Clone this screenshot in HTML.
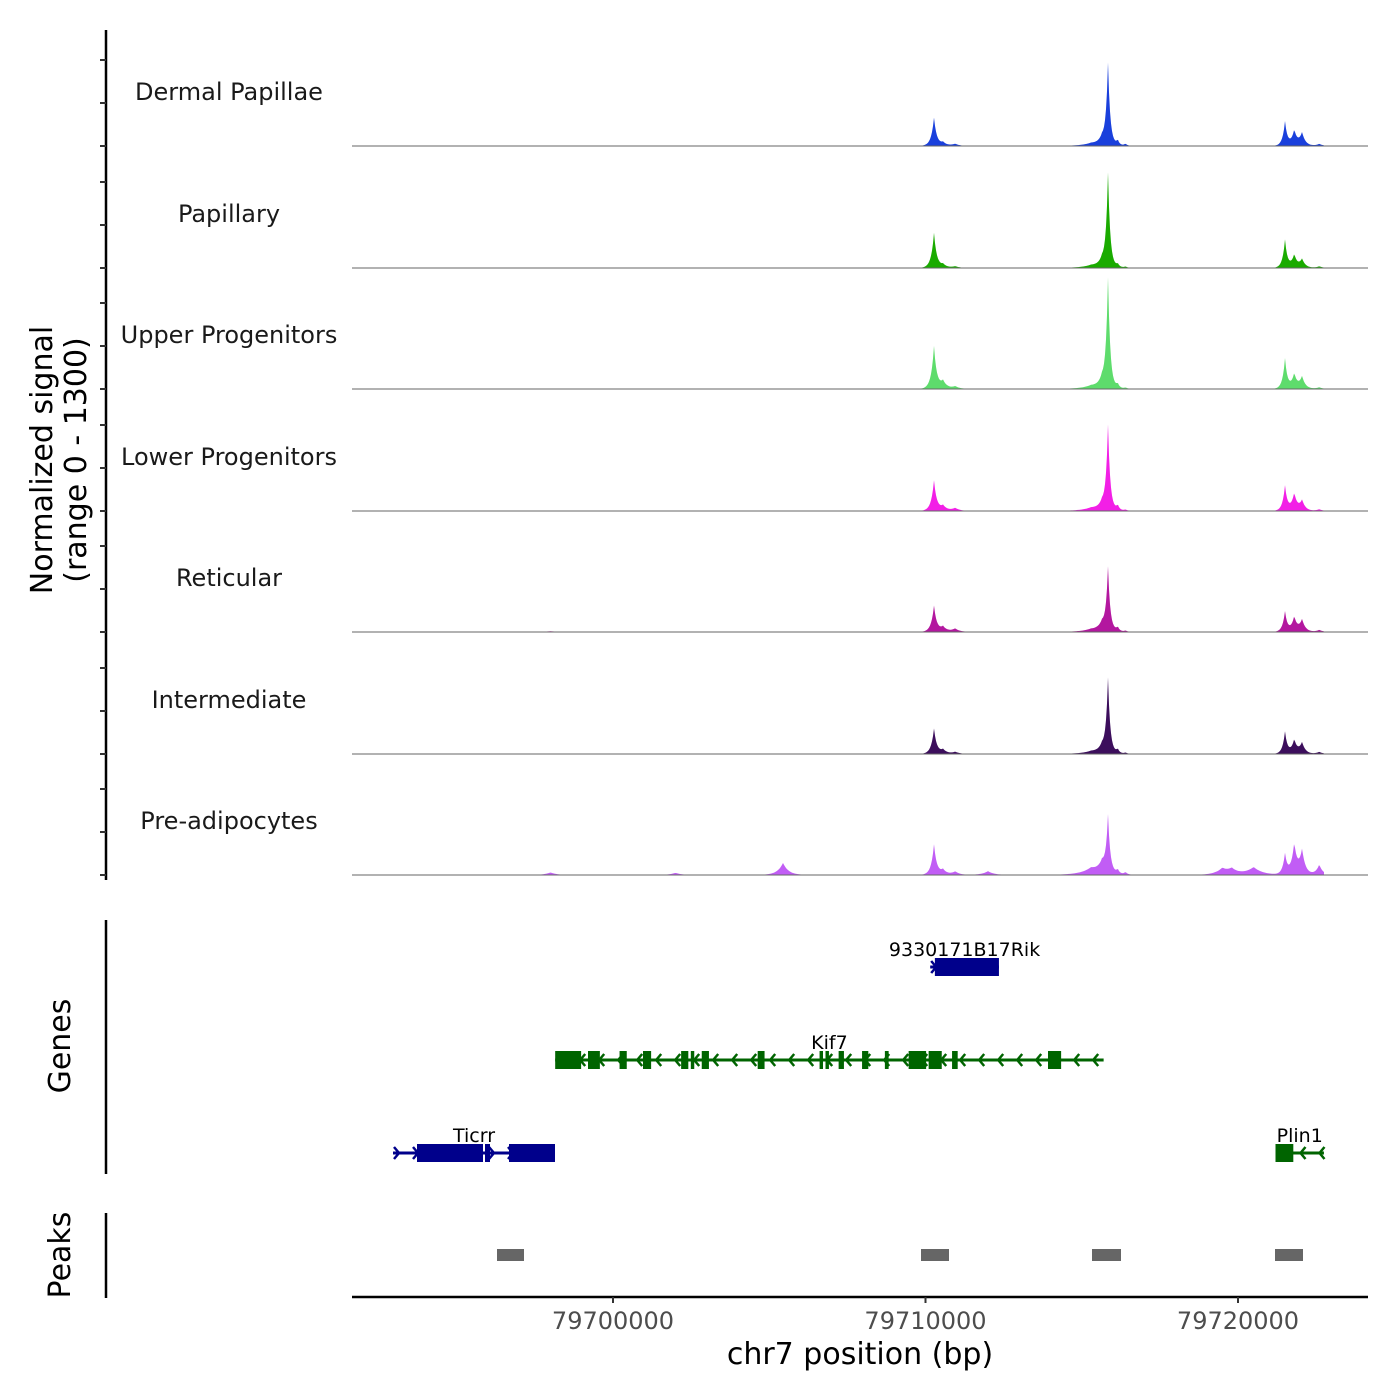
<!DOCTYPE html>
<html><head><meta charset="utf-8"><style>
html,body{margin:0;padding:0;background:#fff}
svg{display:block;font-family:"DejaVu Sans","Liberation Sans",sans-serif}
</style></head><body>
<svg id="plot" width="1400" height="1400" viewBox="0 0 1400 1400" xmlns="http://www.w3.org/2000/svg">
<g id="tracks"></g>
<g id="left"></g>
<g id="genes"></g>
<g id="peaks"></g>
<g id="xaxis"></g>
</svg>
<script>
const trackNames = ["Dermal Papillae","Papillary","Upper Progenitors","Lower Progenitors","Reticular","Intermediate","Pre-adipocytes"];
const trackColors = ["#1a40dc","#1aab00","#5edc6c","#f21fe6","#b3179f","#3c0e5c","#c15df5"];
// peak component centres (bp)
const compPos = [79710272,79710560,79710950,79715300,79715650,79715840,79716150,79716400,79721504,79721800,79722050,79722600,79705440,79712000,79719500,79719800,79720500,79698000,79702000];
// component widths (bp, decay scale)
const compWidth = [90,140,150,400,200,70,60,60,80,100,110,120,180,200,250,200,300,200,200];
// heights per track (signal units, range 0-1300)
const h0 = [325,40,25,25,90,930,60,25,280,175,150,25,0,0,0,0,0,0,0];
const h1 = [405,40,20,25,90,1070,40,15,325,150,100,20,0,0,0,0,0,0,0];
const h2 = [490,90,30,30,110,1270,50,15,350,170,140,20,0,0,0,0,0,0,0];
const h3 = [350,60,35,30,90,965,60,15,290,200,120,20,0,0,0,0,0,0,0];
const h4 = [300,60,40,25,100,720,50,15,235,170,140,25,0,0,0,0,0,10,0];
const h5 = [290,50,25,25,90,850,50,15,255,160,130,25,0,0,0,0,0,0,0];
const h6 = [350,60,40,70,130,640,50,30,235,350,280,120,140,45,70,60,90,30,25];
const trackHeights = [h0,h1,h2,h3,h4,h5,h6];
const xTicks = [79700000,79710000,79720000];
const genes = [
 {name:"9330171B17Rik",strand:1,row:0,start:79710150,end:79712350,exons:[[79710300,79712350]],color:"#00008b"},
 {name:"Kif7",strand:-1,row:1,start:79698150,end:79715700,exons:[[79698150,79698980],[79699200,79699580],[79700210,79700440],[79700960,79701220],[79702180,79702410],[79702490,79702600],[79702840,79703070],[79704630,79704850],[79706610,79706720],[79706800,79706910],[79707220,79707390],[79707970,79708170],[79708700,79708820],[79709460,79710020],[79710100,79710520],[79710850,79711030],[79713920,79714340]],color:"#006400"},
 {name:"Ticrr",strand:1,row:2,start:79692960,end:79698144,exons:[[79693728,79695840],[79695904,79696064],[79696672,79698144]],color:"#00008b"},
 {name:"Plin1",strand:-1,row:2,start:79721200,end:79722750,exons:[[79721200,79721770]],color:"#006400"}
];
const peakRegions = [[79696288,79697152],[79709856,79710752],[79715328,79716256],[79721184,79722080]];

const NS="http://www.w3.org/2000/svg";
const X0=352,X1=1368,BP0=79700000,PX0=613,PXPERBP=312.5/10000;
function xs(bp){return PX0+(bp-BP0)*PXPERBP;}
function bpAt(px){return BP0+(px-PX0)/PXPERBP;}
const baselines=[146,268,389,511,632,754,875];
const PXPERUNIT=43/500;
function el(tag,attrs,parent){const e=document.createElementNS(NS,tag);for(const k in attrs)e.setAttribute(k,attrs[k]);parent.appendChild(e);return e;}
const gT=document.getElementById('tracks');
trackNames.forEach((nm,t)=>{
  const b=baselines[t];const hs=trackHeights[t];
  let d=`M${X0},${b}`;
  for(let px=X0;px<=1324;px+=1){
    const bp=bpAt(px);let v=0;
    for(let i=0;i<compPos.length;i++){if(hs[i])v+=hs[i]*Math.exp(-Math.abs(bp-compPos[i])/compWidth[i]);}
    d+=` L${px},${(b-Math.min(v,1300)*PXPERUNIT).toFixed(2)}`;
  }
  d+=` L1324,${b} Z`;
  const p=el('path',{d:d,fill:trackColors[t]},gT);
  
  
  const bl=el('line',{x1:X0,x2:X1,y1:b,y2:b,stroke:'#666','stroke-width':1},gT);
  
  
  const lab=el('text',{x:229,y:b-46,'text-anchor':'middle','font-size':24,fill:'#1a1a1a'},gT);
  lab.textContent=nm;
  
  
});
const gL=document.getElementById('left');
[[30,880],[920,1174],[1213,1298]].forEach(r=>{
  const l=el('line',{x1:106,x2:106,y1:r[0],y2:r[1],stroke:'#000','stroke-width':2.5},gL);
  
  
});
baselines.forEach(b=>{[0,500,1000].forEach(v=>{
  const y=b-v*PXPERUNIT;
  const tk=el('line',{x1:100,x2:106,y1:y,y2:y,stroke:'#333','stroke-width':2},gL);
  
  
});});
function rtext(x,y,txt,size,name){const t=el('text',{x:0,y:0,transform:`translate(${x},${y}) rotate(-90)`,'text-anchor':'middle','font-size':size,fill:'#000'},gL);t.textContent=txt;}
rtext(52,460,"Normalized signal",30,"y-axis-title");
rtext(86,460,"(range 0 - 1300)",30,"y-axis-subtitle");
rtext(70,1046,"Genes",30,"genes-title");
rtext(70,1255,"Peaks",30,"peaks-title");

const gG=document.getElementById('genes');
const rowY=[967,1060,1153];
genes.forEach(g=>{
  const y=rowY[g.row];const x1=xs(g.start),x2=xs(g.end);
  const l=el('line',{x1:x1,x2:x2,y1:y,y2:y,stroke:g.color,'stroke-width':3},gG);
  
  
  for(let x=x1+6;x<x2-4;x+=19){
    const dx=g.strand>0?-5:5;
    const a=el('polyline',{points:`${x+dx},${y-6} ${x},${y} ${x+dx},${y+6}`,fill:'none',stroke:g.color,'stroke-width':2.5},gG);
    
    
  }
  g.exons.forEach(e=>{
    const r=el('rect',{x:xs(e[0]),y:y-9,width:Math.max(3,xs(e[1])-xs(e[0])),height:18,fill:g.color},gG);
    
    
  });
  const t=el('text',{x:(x1+x2)/2,y:y-11,'text-anchor':'middle','font-size':19,fill:'#000'},gG);
  t.textContent=g.name;
  
  
});
const gP=document.getElementById('peaks');
peakRegions.forEach(p=>{
  const r=el('rect',{x:xs(p[0]),y:1249,width:xs(p[1])-xs(p[0]),height:12,fill:'#666'},gP);
  
  
});
const gX=document.getElementById('xaxis');
const ax=el('line',{x1:X0,x2:X1,y1:1297,y2:1297,stroke:'#000','stroke-width':2.5},gX);


xTicks.forEach(v=>{
  const tk=el('line',{x1:xs(v),x2:xs(v),y1:1297,y2:1303,stroke:'#333','stroke-width':2},gX);
  
  
  const t=el('text',{x:xs(v),y:1329,'text-anchor':'middle','font-size':24,fill:'#4d4d4d'},gX);
  t.textContent=String(v);
  
  
});
const xt=el('text',{x:860,y:1364,'text-anchor':'middle','font-size':30,fill:'#000'},gX);
xt.textContent="chr7 position (bp)";


</script>
</body></html>
